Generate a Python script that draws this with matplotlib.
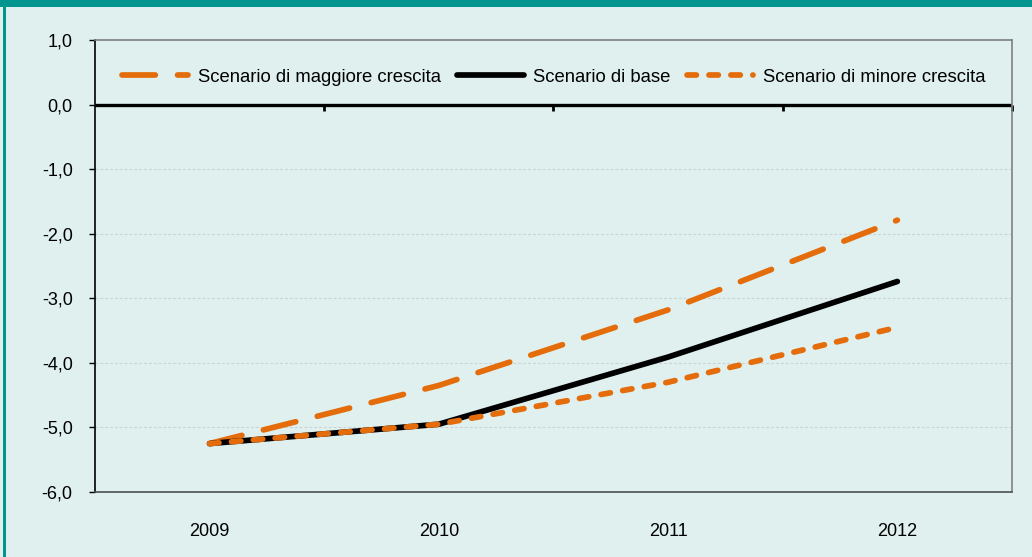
import matplotlib
matplotlib.use("Agg")
import matplotlib.pyplot as plt
from matplotlib.ticker import FuncFormatter, MultipleLocator
from matplotlib.patches import Rectangle
from matplotlib import markers

plt.rcParams['font.family'] = ['Liberation Sans', 'DejaVu Sans']
plt.rcParams['lines.scale_dashes'] = False

years = ['2009', '2010', '2011', '2012']
maggiore = [-5.25, -4.35, -3.18, -1.79]
base = [-5.25, -4.95, -3.91, -2.74]
minore = [-5.25, -4.95, -4.30, -3.45]
labels = ['Scenario di maggiore crescita', 'Scenario di base', 'Scenario di minore crescita']

BG = '#DFF0EF'
TEAL = '#00968F'
ORANGE = '#E46C0A'

fig = plt.figure(figsize=(10.32, 5.57), dpi=100, facecolor=BG)
ax = fig.add_axes([0.092, 0.1167, 0.8886, 0.8115])
ax.set_facecolor(BG)

x = list(range(len(years)))
lw = 4.1
l1, = ax.plot(x, maggiore, color=ORANGE, lw=lw, dashes=(24, 16), dash_capstyle='round',
              solid_capstyle='round', zorder=3)
l2, = ax.plot(x, base, color='black', lw=lw, solid_capstyle='round', zorder=4)
l3, = ax.plot(x, minore, color=ORANGE, lw=lw, dashes=(6.8, 9.0), dash_capstyle='round',
              zorder=5)

ax.set_xlim(-0.5, len(years) - 0.5)
ax.set_ylim(-6, 1)
ax.yaxis.set_major_locator(MultipleLocator(1))
ax.yaxis.set_major_formatter(FuncFormatter(lambda v, p: f"{v:.1f}".replace('.', ',')))

# gridlines
for yv in range(-5, 0):
    ax.axhline(yv, color='#CDD2D2', lw=0.8, ls=(0, (2, 1.5)), zorder=1)
ax.axhline(0, color='black', lw=2.4, zorder=2)
bounds = [i + 0.5 for i in range(len(years))]
ax.plot(bounds, [0] * len(bounds), ls='none', marker=markers.TICKDOWN, ms=4,
        mew=2, color='black', zorder=2, clip_on=False)

ax.set_xticks(x)
ax.set_xticklabels(years)
ax.tick_params(axis='x', length=0, pad=22, labelsize=13)
ax.tick_params(axis='y', length=4, width=1, direction='out', pad=12, labelsize=13)

for s in ['top', 'right']:
    ax.spines[s].set_color('#808080')
    ax.spines[s].set_linewidth(1.2)
ax.spines['left'].set_color('black')
ax.spines['left'].set_linewidth(1.2)
ax.spines['bottom'].set_color('#505050')
ax.spines['bottom'].set_linewidth(1.2)

leg = ax.legend([l1, l2, l3], labels, loc='center', bbox_to_anchor=(0.5, 0.918),
                ncol=3, frameon=False, fontsize=13.3, handlelength=3.6,
                handletextpad=0.5, columnspacing=0.9, borderaxespad=0)

# teal frame
fig.patches.append(Rectangle((0, 1 - 7 / 557), 1, 7 / 557, transform=fig.transFigure,
                             facecolor=TEAL, edgecolor='none', zorder=0))
fig.patches.append(Rectangle((3 / 1032, 0), 3 / 1032, 1, transform=fig.transFigure,
                             facecolor=TEAL, edgecolor='none', zorder=0))

fig.savefig('out.png', dpi=100, facecolor=BG)
